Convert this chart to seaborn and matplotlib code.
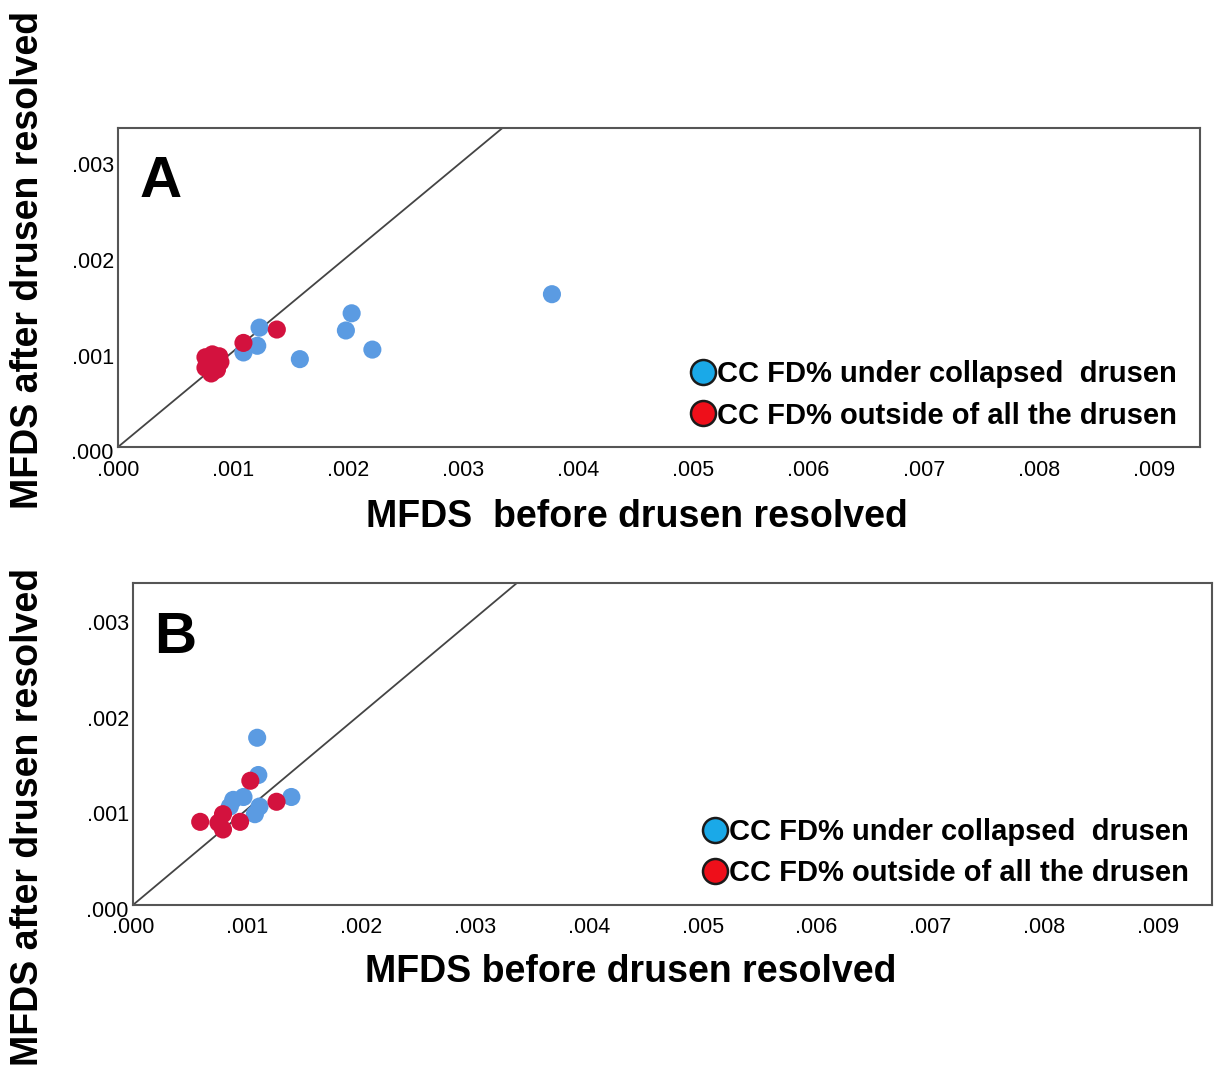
import matplotlib
matplotlib.use("Agg")
import matplotlib.pyplot as plt
import matplotlib.transforms as mtransforms
import seaborn as sns
import pandas as pd
from matplotlib.lines import Line2D

sns.set_style("white")
plt.rcParams['font.family'] = ['Liberation Sans', 'DejaVu Sans']
plt.rcParams['text.color'] = 'black'

# Panel A data
a_under_x = [0.00123, 0.00121, 0.00109, 0.00158, 0.00203, 0.00198, 0.00221, 0.00377]
a_under_y = [0.00125, 0.00106, 0.00099, 0.00092, 0.00140, 0.00122, 0.00102, 0.00160]
a_out_x = [0.00138, 0.00109, 0.00076, 0.00082, 0.00088, 0.00076, 0.00083, 0.00089, 0.00081, 0.00086]
a_out_y = [0.00123, 0.00109, 0.00094, 0.00097, 0.00095, 0.00083, 0.00085, 0.00089, 0.00077, 0.00081]

# Panel B data
b_under_x = [0.00109, 0.00110, 0.00088, 0.00097, 0.00139, 0.00111, 0.00107, 0.00085]
b_under_y = [0.00175, 0.00136, 0.00110, 0.00113, 0.00113, 0.00103, 0.00095, 0.00103]
b_out_x = [0.00103, 0.00126, 0.00059, 0.00079, 0.00075, 0.00079, 0.00094]
b_out_y = [0.00130, 0.00108, 0.00087, 0.00095, 0.00086, 0.00079, 0.00087]

tick_vals = [0.000, 0.001, 0.002, 0.003, 0.004, 0.005, 0.006, 0.007, 0.008, 0.009]
tick_labels = [".000", ".001", ".002", ".003", ".004", ".005", ".006", ".007", ".008", ".009"]
ytick_vals = [0.000, 0.001, 0.002, 0.003]
ytick_labels = [".000", ".001", ".002", ".003"]

grp_under = "CC FD% under collapsed drusen"
grp_out = "CC FD% outside of all the drusen"
leg_labels = ["CC FD% under collapsed  drusen", "CC FD% outside of all the drusen"]

point_colors = {grp_under: "#5b9be2", grp_out: "#d3123e"}
legend_colors = ["#1aa9e8", "#ee0f1a"]

def make_df(ux, uy, ox, oy):
    return pd.DataFrame({
        "x": ux + ox,
        "y": uy + oy,
        "g": [grp_under] * len(ux) + [grp_out] * len(ox),
    })

fig = plt.figure(figsize=(12.2, 10.73), dpi=100)
axA = fig.add_axes([0.0967, 0.5834, 0.8869, 0.2973])
axB = fig.add_axes([0.1090, 0.1566, 0.8844, 0.3001])

panels = [
    (axA, make_df(a_under_x, a_under_y, a_out_x, a_out_y), "A", 0.0094, 0.00334),
    (axB, make_df(b_under_x, b_under_y, b_out_x, b_out_y), "B", 0.00947, 0.00337),
]

offset = mtransforms.ScaledTranslation(0, -4 / 100, fig.dpi_scale_trans)

for ax, df, letter, xmax, ymax in panels:
    ax.plot([0, 0.01], [0, 0.01], color="#444444", lw=1.3, zorder=1)
    sns.scatterplot(data=df, x="x", y="y", hue="g", palette=point_colors,
                    s=170, edgecolor="none", alpha=1, ax=ax, legend=False, zorder=3)
    ax.set_xlim(0, xmax)
    ax.set_ylim(0, ymax)
    ax.set_xticks(tick_vals)
    ax.set_xticklabels(tick_labels)
    ax.set_yticks(ytick_vals)
    ax.set_yticklabels(ytick_labels)
    ax.tick_params(axis="x", length=0, labelsize=15.5, pad=9, colors="black")
    ax.tick_params(axis="y", length=0, labelsize=15.5, pad=3, colors="black")
    for lbl in ax.get_yticklabels():
        lbl.set_transform(lbl.get_transform() + offset)
    ax.set_xlabel("")
    ax.set_ylabel("")
    for sp in ax.spines.values():
        sp.set_color("#555555")
        sp.set_linewidth(1.5)
    ax.text(0.02, 0.83, letter, transform=ax.transAxes, fontsize=42,
            fontweight="bold", va="center", ha="left", color="black")
    handles = [Line2D([0], [0], marker="o", linestyle="none", markersize=18,
                      markerfacecolor=c, markeredgecolor="#1a1a1a", markeredgewidth=1.8)
               for c in legend_colors]
    leg = ax.legend(handles, leg_labels, loc="lower right", bbox_to_anchor=(0.995, 0.0),
                    frameon=False, handletextpad=0.0, handlelength=1.0,
                    labelspacing=0.45, borderaxespad=0.2,
                    prop={"weight": "bold", "size": 21})
    for t in leg.get_texts():
        t.set_color("black")

# axis titles
fig.text(0.522, 1 - 517 / 1073, "MFDS  before drusen resolved", ha="center", va="center",
         fontsize=27, fontweight="bold", color="black")
fig.text(0.517, 1 - 972 / 1073, "MFDS before drusen resolved", ha="center", va="center",
         fontsize=27, fontweight="bold", color="black")
fig.text(28 / 1220, 1 - 260 / 1073, "MFDS after drusen resolved", ha="center", va="center",
         rotation=90, fontsize=27, fontweight="bold", color="black")
fig.text(28 / 1220, 1 - 817 / 1073, "MFDS after drusen resolved", ha="center", va="center",
         rotation=90, fontsize=27, fontweight="bold", color="black")

fig.savefig("out.png", dpi=100, facecolor="white")
